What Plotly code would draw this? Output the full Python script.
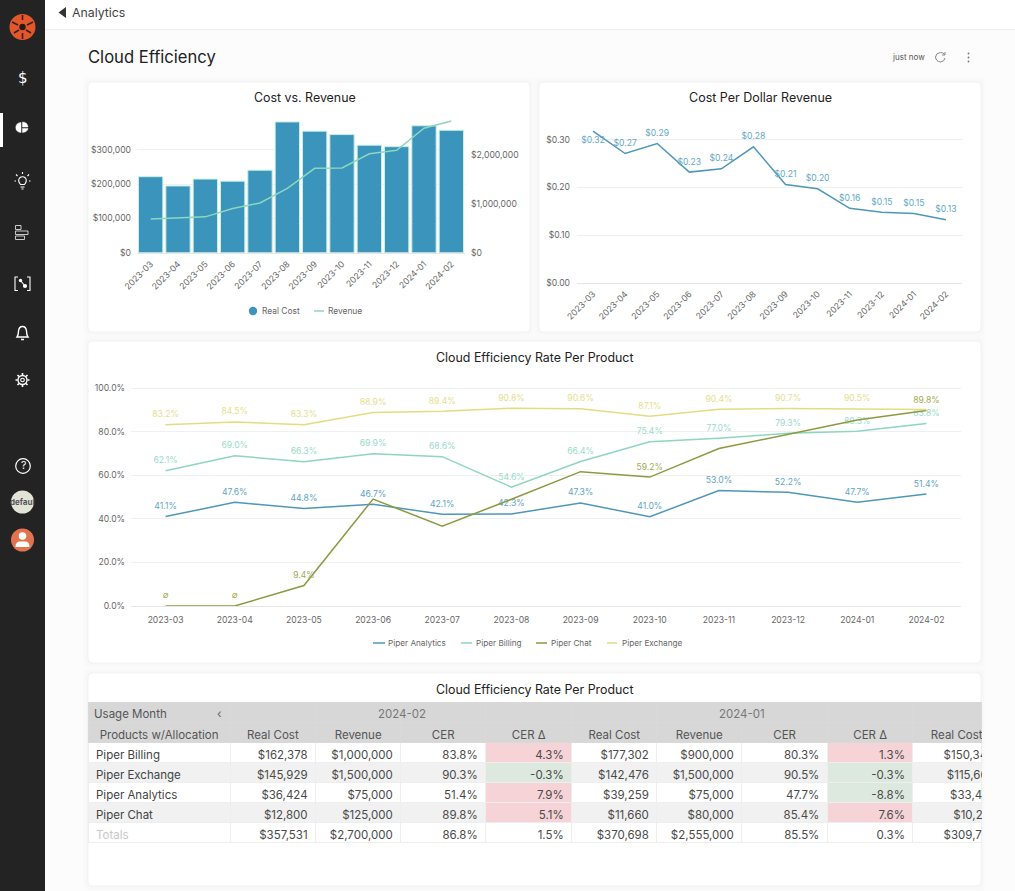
import re
import plotly.graph_objects as go

W, H = 1015, 891
months = ["2023-03","2023-04","2023-05","2023-06","2023-07","2023-08","2023-09","2023-10","2023-11","2023-12","2024-01","2024-02"]
real_cost = [222000,195000,215000,209000,241000,382000,355000,345000,314000,309730,370698,357531]
revenue = [690000,720000,735000,905000,1020000,1320000,1730000,1740000,2030000,2100000,2555000,2700000]
cost_per_dollar = [0.318,0.271,0.292,0.232,0.239,0.285,0.206,0.197,0.156,0.148,0.145,0.132]
cpd_labels = ["$0.32","$0.27","$0.29","$0.23","$0.24","$0.28","$0.21","$0.20","$0.16","$0.15","$0.15","$0.13"]

cer_analytics = [41.1,47.6,44.8,46.7,42.1,42.3,47.3,41.0,53.0,52.2,47.7,51.4]
cer_billing = [62.1,69.0,66.3,69.9,68.6,54.6,66.4,75.4,77.0,79.3,80.3,83.8]
cer_chat = [0,0,9.4,49.1,36.7,49.0,61.7,59.2,72.3,78.9,85.4,89.8]
cer_exchange = [83.2,84.5,83.3,88.9,89.4,90.8,90.6,87.1,90.4,90.7,90.5,90.3]
chat_labels = ["∅","∅","9.4%","","","","","59.2%","","","","89.8%"]
exchange_labels = [f"{v:.1f}%" for v in cer_exchange[:-1]] + [""]

products = ["Piper Billing","Piper Exchange","Piper Analytics","Piper Chat","Totals"]
feb_cost = ["$162,378","$145,929","$36,424","$12,800","$357,531"]
feb_rev = ["$1,000,000","$1,500,000","$75,000","$125,000","$2,700,000"]
feb_cer = ["83.8%","90.3%","51.4%","89.8%","86.8%"]
feb_delta = ["4.3%","-0.3%","7.9%","5.1%","1.5%"]
jan_cost = ["$177,302","$142,476","$39,259","$11,660","$370,698"]
jan_rev = ["$900,000","$1,500,000","$75,000","$80,000","$2,555,000"]
jan_cer = ["80.3%","90.5%","47.7%","85.4%","85.5%"]
jan_delta = ["1.3%","-0.3%","-8.8%","7.6%","0.3%"]
dec_cost = ["$150,34","$115,66","$33,43","$10,29","$309,73"]

FONT = "Inter, Liberation Sans, sans-serif"
BLUE, MINT, OLIVE, YELLOW = "#4f97b8", "#8dd6bf", "#8c9a3f", "#e4dd80"
TICK = "#666666"
GRID = "#f0f0f0"
TS = 8.6

def fx(p): return p / W
def fy(p): return 1 - p / H

def P(path):
    toks = re.findall(r"[MLCQZ]|-?\d+\.?\d*", path)
    out, i = [], 0
    for t in toks:
        if t in "MLCQZ":
            out.append(t)
        else:
            out.append(f"{fx(float(t)):.5f}" if i % 2 == 0 else f"{fy(float(t)):.5f}")
            i += 1
    return " ".join(out)

shapes, notes = [], []

def rect(x0, y0, x1, y1, color, line=None, layer="below"):
    shapes.append(dict(type="rect", xref="paper", yref="paper", x0=fx(x0), x1=fx(x1), y0=fy(y0), y1=fy(y1),
                       fillcolor=color, line=dict(width=0 if line is None else 1, color=line or color), layer=layer))

def circle(cx, cy, r, fill="rgba(0,0,0,0)", line=None, lw=1.3):
    shapes.append(dict(type="circle", xref="paper", yref="paper", x0=fx(cx-r), x1=fx(cx+r), y0=fy(cy-r), y1=fy(cy+r),
                       fillcolor=fill, line=dict(width=lw if line else 0, color=line or fill), layer="below"))

def path(d, line="#ffffff", lw=1.3, fill="rgba(0,0,0,0)"):
    shapes.append(dict(type="path", xref="paper", yref="paper", path=P(d), fillcolor=fill,
                       line=dict(width=lw, color=line), layer="below"))

def text(x, y, s, size=12, color="#222222", anchor="center", family=FONT):
    notes.append(dict(xref="paper", yref="paper", x=fx(x), y=fy(y), text=s, showarrow=False, xanchor=anchor,
                      yanchor="middle", borderpad=0, borderwidth=0, font=dict(size=size, color=color, family=family)))

def card(x0, y0, x1, y1, r=5):
    for grow, col in ((5, "rgba(0,0,0,0.006)"), (3, "rgba(0,0,0,0.008)"), (1, "rgba(0,0,0,0.012)")):
        a, b, c, d = x0-grow, y0-grow, x1+grow, y1+grow
        path(f"M{a+r} {b} L{c-r} {b} Q{c} {b} {c} {b+r} L{c} {d-r} Q{c} {d} {c-r} {d} L{a+r} {d} Q{a} {d} {a} {d-r} L{a} {b+r} Q{a} {b} {a+r} {b} Z",
             line="rgba(0,0,0,0)", lw=0, fill=col)
    a, b, c, d = x0, y0, x1, y1
    path(f"M{a+r} {b} L{c-r} {b} Q{c} {b} {c} {b+r} L{c} {d-r} Q{c} {d} {c-r} {d} L{a+r} {d} Q{a} {d} {a} {d-r} L{a} {b+r} Q{a} {b} {a+r} {b} Z",
         line="#f3f3f3", lw=1, fill="#ffffff")

# page furniture
rect(45, 0, W, H, "#fcfcfc")
rect(45, 0, W, 29, "#ffffff")
rect(45, 29, W, 30, "#eeeeee")
card(88, 82, 530, 332)
card(539, 82, 981, 332)
card(88, 341, 981, 663)
card(88, 673, 981, 886)

# sidebar
rect(0, 0, 45, H, "#232323")
rect(0, 113, 3, 147, "#ffffff")
circle(22.5, 27, 13, fill="#e2572b")
circle(22.5, 27, 3.2, fill="#2a1a14")
path("M12 22 L18 25 M33 22 L27 25 M22.5 15 L22.5 20 M14 33 L19 30 M31 33 L26 30 M22.5 39 L22.5 33", line="#3a2018", lw=1.6)
text(22.5, 78, "$", 15, "#ffffff", family="DejaVu Sans")
path("M21 122.5 L21 132.5 Q16 132.2 15.8 127.5 Q16 122.8 21 122.5 Z M22.5 122 Q27.5 122.2 28 127 L22.5 127 Z M22.5 128.5 L28 128.5 Q27.5 132 22.5 132.5 Z", line="#ffffff", lw=0.5, fill="#ffffff")
path("M20.5 184.5 Q17.5 181 19.5 178 Q22.5 175.5 25.5 178 Q27.5 181 24.5 184.5 Z M20.5 187 L24.5 187 M21.5 189 L23.5 189 M22.5 174 L22.5 172 M17.5 176 L16 174.5 M27.5 176 L29 174.5 M16 181 L14.5 181 M29 181 L30.5 181", lw=1.1)
path("M15.5 225.5 L21 225.5 L21 229.5 L15.5 229.5 Z M15.5 231 L28 231 L28 234.5 L15.5 234.5 Z M15.5 236 L24.5 236 L24.5 239.5 L15.5 239.5 Z", lw=0.9, line="#dddddd")
path("M18 277 L15 277 L15 290.5 L18 290.5 M27 277 L30 277 L30 290.5 L27 290.5 M20.5 280.5 L25 286", lw=1.1)
circle(20.5, 280.5, 1.7, fill="#ffffff")
circle(25, 286, 2.1, fill="#ffffff")
path("M17 337 Q18.5 335 18.5 331 Q19 326.5 22.5 326.5 Q26 326.5 26.5 331 Q26.5 335 28 337 Z M21 339.5 L24 339.5", lw=1.4)
circle(22.5, 380, 4.5, line="#ffffff", lw=1.4)
circle(22.5, 380, 1.8, line="#ffffff", lw=1.1)
path("M22.5 373 L22.5 375 M22.5 385 L22.5 387 M15.5 380 L17.5 380 M27.5 380 L29.5 380 M17.5 375 L19 376.5 M26 383.5 L27.5 385 M27.5 375 L26 376.5 M19 383.5 L17.5 385", lw=1.6)
circle(23, 466, 7.3, line="#ffffff", lw=1.2)
text(23, 466, "?", 10.5, "#ffffff")
circle(22.5, 502, 11.5, fill="#e4e3d8")
text(22.5, 502, "<b>defaul</b>", 8, "#555555")
circle(22.5, 540, 11.5, fill="#e2734f")
circle(22.5, 536, 3.8, fill="#ffffff")
path("M15.5 547 Q15.5 541.5 20 541.5 L25 541.5 Q29.5 541.5 29.5 547 Z", line="#ffffff", lw=0, fill="#ffffff")

# header texts
path("M66 7 L66 18 L58.5 12.5 Z", line="#333333", lw=0, fill="#333333")
text(72, 12.5, "Analytics", 12.3, "#444444", "left")
text(88, 57, "Cloud Efficiency", 16.6, "#222222", "left")
text(892, 57.5, "just now", 8, "#555555", "left")
path("M945 54.5 Q943 52.5 940.5 52.5 Q936 52.8 935.5 57 Q936 61.5 940.5 62 Q944.5 61.5 945 58 M945 52 L945 55 L942 55", line="#888888", lw=1)
for yy in (53.5, 57.5, 61.5):
    circle(968.5, yy, 0.9, fill="#777777")

text(305, 98, "Cost vs. Revenue", 12.4)
text(760, 98, "Cost Per Dollar Revenue", 12.5)
text(535, 357, "Cloud Efficiency Rate Per Product", 12.4)
text(535, 689, "Cloud Efficiency Rate Per Product", 12.4)

# legends
def key_line(x0, x1, y, color):
    path(f"M{x0} {y} L{x1} {y}", line=color, lw=1.5)

circle(253, 311, 4.2, fill="#3a94bb")
text(262, 311, "Real Cost", 8.4, TICK, "left")
key_line(314, 324, 311, MINT)
text(328, 311, "Revenue", 8.4, TICK, "left")
key_line(373, 385, 643, BLUE)
text(388, 643, "Piper Analytics", 8.2, TICK, "left")
key_line(461, 472, 643, MINT)
text(475.5, 643, "Piper Billing", 8.2, TICK, "left")
key_line(536, 547, 643, OLIVE)
text(551, 643, "Piper Chat", 8.2, TICK, "left")
key_line(607, 617, 643, YELLOW)
text(621.5, 643, "Piper Exchange", 8.2, TICK, "left")

fig = go.Figure()

# Cost vs revenue
fig.add_bar(x=months, y=real_cost, marker=dict(color="#3a94bb", line=dict(color="#c9efe3", width=1)),
            xaxis="x", yaxis="y", name="Real Cost")
fig.add_scatter(x=months, y=revenue, mode="lines", line=dict(color=MINT, width=1.5), name="Revenue",
                xaxis="x", yaxis="y2")

# Cost per dollar
LABEL_MARK = dict(size=7, opacity=0)
fig.add_scatter(x=months, y=cost_per_dollar, mode="lines+markers+text", text=cpd_labels, marker=LABEL_MARK,
                textposition=["bottom center"] + ["top center"] * 11,
                textfont=dict(size=TS, color="#62a9c6", family=FONT),
                line=dict(color=BLUE, width=1.5), xaxis="x2", yaxis="y3", name="Cost Per Dollar Revenue")

# CER lines
def cer(vals, labels, color, tcolor, name):
    fig.add_scatter(x=months, y=vals, mode="lines+markers+text", text=labels, textposition="top center", marker=LABEL_MARK,
                    textfont=dict(size=TS, color=tcolor, family=FONT),
                    line=dict(color=color, width=1.5), name=name, xaxis="x3", yaxis="y4")

cer(cer_analytics, [f"{v:.1f}%" for v in cer_analytics], BLUE, "#62a5c4", "Piper Analytics")
cer(cer_billing, [f"{v:.1f}%" for v in cer_billing], MINT, "#9adcc6", "Piper Billing")
cer(cer_chat, chat_labels, OLIVE, "#a3ab52", "Piper Chat")
cer(cer_exchange, exchange_labels, YELLOW, "#e6e08e", "Piper Exchange")

# Table
NB = "\u00a0"
clip_pad = [7, 8, 9, 10, 7]
clipped = [NB * n + v for n, v in zip(clip_pad, dec_cost)]
columns = [products, feb_cost, feb_rev, feb_cer, feb_delta, jan_cost, jan_rev, jan_cer, jan_delta, clipped]
col_px = [142, 85.5, 85, 85, 86, 85, 85, 85.5, 85.5, 68]
head2 = [f"Products{NB}w/Allocation", f"Real{NB}Cost", "Revenue", "CER", f"CER{NB}Δ", f"Real{NB}Cost", "Revenue", "CER", f"CER{NB}Δ", NB * 6 + f"Real{NB}Cost"]
ZEBRA = ["#ffffff", "#f0f1f0", "#ffffff", "#f0f1f0", "#ffffff"]
RED, GREEN = "#f6d3d7", "#dde9de"
def delta_fill(vals):
    out = []
    for i, v in enumerate(vals):
        if i == 4:
            out.append("#ffffff")
        else:
            out.append(GREEN if v.startswith("-") else RED)
    return out
fills = [ZEBRA] * 4 + [delta_fill(feb_delta)] + [ZEBRA] * 3 + [delta_fill(jan_delta)] + [ZEBRA]
fig.add_table(
    domain=dict(x=[fx(88), fx(981)], y=[fy(845), fy(702.5)]),
    columnwidth=col_px,
    header=dict(values=[["", b] for b in head2], height=20,
                fill_color="#d7d7d7", line=dict(color="#d9d9d9", width=1),
                align="center",
                font=dict(size=11.5, color="#555555", family=FONT)),
    cells=dict(values=[[c.replace(" ", NB) for c in col] for col in columns], height=20, fill_color=fills,
               line=dict(color="#eeeeee", width=1),
               align=["left"] * 1 + ["right"] * 8 + ["left"],
               font=dict(size=11.5, family=FONT,
                         color=[["#444444"] * 4 + ["#c8c8c8"]] + ["#4a4a4a"] * 9)),
)
text(94, 713.5, "Usage Month", 11.5, "#555555", "left")
text(401.5, 713.5, "2024-02", 11.5, "#777777")
text(742, 713.5, "2024-01", 11.5, "#777777")
text(219, 713.5, "‹", 12, "#666666")

def xa(l, r, anchor, angle, standoff):
    return dict(domain=[fx(l), fx(r)], anchor=anchor, type="category", categoryorder="array", categoryarray=months,
                range=[-0.5, 11.5], tickangle=angle, ticks="", showgrid=False, showline=True, linecolor="#e6e6e6",
                tickfont=dict(size=TS, color=TICK, family=FONT), ticklabelstandoff=standoff, automargin=False)

def ya(t, b, rng, vals, fmt, standoff, **kw):
    d = dict(domain=[fy(b), fy(t)], range=rng, tickvals=vals, ticktext=fmt, ticks="", showgrid=True, gridcolor=GRID,
             zeroline=False, showline=False, tickfont=dict(size=TS, color=TICK, family=FONT), automargin=False,
             ticklabelstandoff=standoff)
    d.update(kw)
    return d

fig.update_layout(
    width=W, height=H, autosize=False, margin=dict(l=0, r=0, t=0, b=0), paper_bgcolor="#ffffff", plot_bgcolor="rgba(0,0,0,0)",
    font=dict(family=FONT), shapes=shapes, annotations=notes, barmode="overlay", bargap=0.11, showlegend=False,
    xaxis=xa(137, 465, "y", -45, 2),
    yaxis=ya(115, 252.7, [0, 402200], [0, 100000, 200000, 300000], ["$0", "$100,000", "$200,000", "$300,000"], 5, anchor="x"),
    yaxis2=ya(115, 252.7, [0, 2825000], [0, 1000000, 2000000], ["$0", "$1,000,000", "$2,000,000"], 5,
              overlaying="y", side="right", anchor="x", showgrid=False),
    xaxis2=xa(577, 962, "y3", -45, 2),
    yaxis3=ya(120, 282.7, [0, 0.3413], [0, 0.1, 0.2, 0.3], ["$0.00", "$0.10", "$0.20", "$0.30"], 6, anchor="x2"),
    xaxis3=xa(131, 961, "y4", 0, 6),
    yaxis4=ya(380, 606, [0, 103.8], [0, 20, 40, 60, 80, 100], ["0.0%", "20.0%", "40.0%", "60.0%", "80.0%", "100.0%"], 5, anchor="x3"),
)

fig.write_html("out.html", config=dict(displayModeBar=False),
               post_script="document.body.style.margin='0';document.body.style.overflow='hidden';")
